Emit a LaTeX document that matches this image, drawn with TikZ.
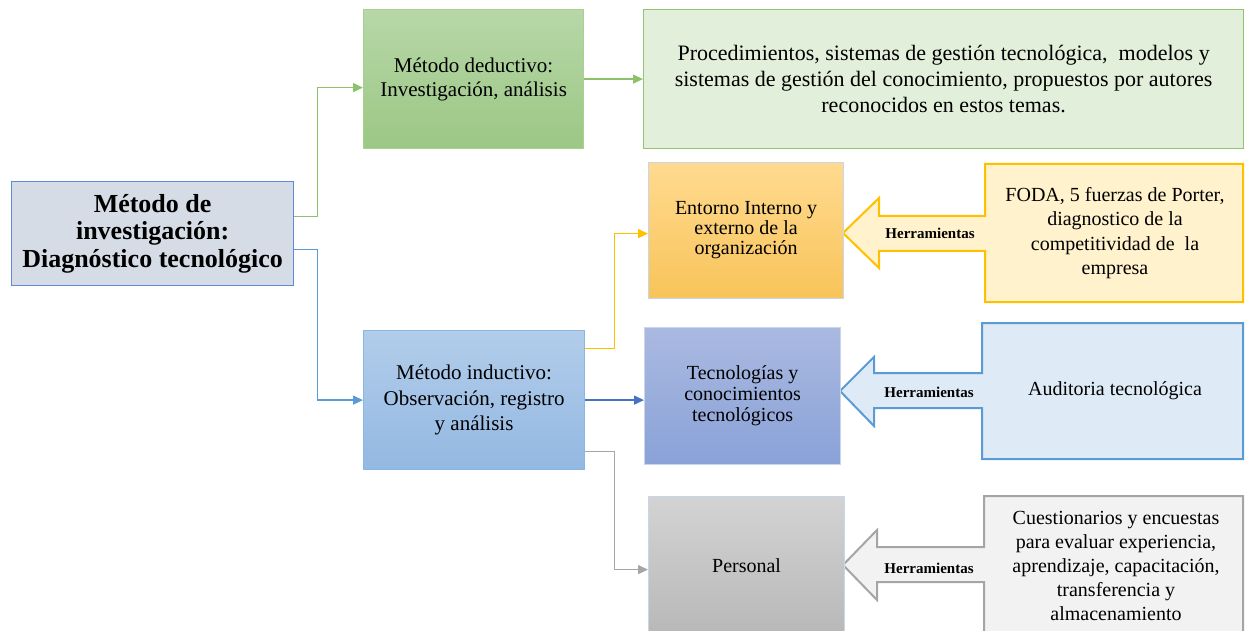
\documentclass[tikz,border=0pt]{standalone}
\usepackage{fontspec}
\setmainfont{Liberation Serif}
\usetikzlibrary{arrows.meta}
\definecolor{mainfill}{HTML}{D6DCE5}
\definecolor{mainline}{HTML}{5B8BD9}
\definecolor{gline}{HTML}{8CC26A}
\definecolor{bline}{HTML}{5B9BD5}
\definecolor{dedtop}{HTML}{B7D7A8}
\definecolor{dedbot}{HTML}{9CC784}
\definecolor{dedline}{HTML}{A9D18E}
\definecolor{bigfill}{HTML}{E2EFDA}
\definecolor{bigline}{HTML}{92C36F}
\definecolor{indtop}{HTML}{B2CDEA}
\definecolor{indbot}{HTML}{93B8E2}
\definecolor{indline}{HTML}{8AB6E4}
\definecolor{yline}{HTML}{FFC000}
\definecolor{enttop}{HTML}{FFDA8F}
\definecolor{entbot}{HTML}{F8C45A}
\definecolor{softline}{HTML}{C9D5EA}
\definecolor{tline}{HTML}{4472C4}
\definecolor{tectop}{HTML}{AAB9E0}
\definecolor{tecbot}{HTML}{8AA2D8}
\definecolor{grline}{HTML}{A5A5A5}
\definecolor{pertop}{HTML}{D3D3D3}
\definecolor{perbot}{HTML}{B8B8B8}
\definecolor{fodafill}{HTML}{FFF2CC}
\definecolor{audfill}{HTML}{DEEBF7}
\definecolor{cuefill}{HTML}{F2F2F2}
\begin{document}
\begin{tikzpicture}[x=1pt,y=-1pt,
  box/.style={rectangle,anchor=north west,inner sep=0pt,align=center,line width=1.2pt},
  txt/.style={font=\fontsize{20}{24}\selectfont},
  conn/.style={line width=1.4pt,-{Triangle[length=10pt,width=9pt]}},
  callout/.style={line width=2pt},
  herr/.style={font=\fontsize{15}{17}\selectfont\bfseries,inner sep=0pt},
  plain/.style={align=center,inner sep=0pt}]
\useasboundingbox (0,0) rectangle (1245,631);
\clip (0,0) rectangle (1245,631);

% callout shapes
\draw[callout,draw=yline,fill=fodafill] (985,164) -- (1243,164) -- (1243,302) -- (985,302) -- (985,251) -- (879,251) -- (879,268) -- (843,233) -- (879,198) -- (879,216) -- (985,216) -- cycle;
\draw[callout,draw=bline,fill=audfill] (982,323) -- (1243,323) -- (1243,459) -- (982,459) -- (982,408) -- (874,408) -- (874,426) -- (840,391) -- (874,357) -- (874,373) -- (982,373) -- cycle;
\draw[callout,draw=grline,fill=cuefill] (984,496) -- (1243,496) -- (1243,645) -- (984,645) -- (984,582) -- (877,582) -- (877,600) -- (843,565) -- (877,530) -- (877,547) -- (984,547) -- cycle;

% boxes
\node[box,draw=mainline,fill=mainfill,minimum width=282pt,minimum height=104pt,
  font=\fontsize{26}{27.5}\selectfont\bfseries] (main) at (11,181)
  {Método de\\investigación:\\Diagnóstico tecnológico};
\node[box,txt,draw=dedline,top color=dedtop,bottom color=dedbot,minimum width=220pt,minimum height=139pt,
  font=\fontsize{21}{24}\selectfont] (ded) at (363,9)
  {Método deductivo:\\Investigación, análisis};
\node[box,draw=bigline,fill=bigfill,minimum width=600pt,minimum height=139pt,
  font=\fontsize{22}{26}\selectfont] (big) at (643,9)
  {Procedimientos, sistemas de gestión tecnológica,\ \ modelos y\\sistemas de gestión del conocimiento, propuestos por autores\\reconocidos en estos temas.};
\node[box,draw=indline,top color=indtop,bottom color=indbot,minimum width=221pt,minimum height=139pt,
  font=\fontsize{21}{25.5}\selectfont] (ind) at (363,330)
  {Método inductivo:\\Observación, registro\\y análisis};
\node[box,draw=softline,top color=enttop,bottom color=entbot,minimum width=195pt,minimum height=136pt,
  font=\fontsize{20}{20}\selectfont] (ent) at (648,162)
  {Entorno Interno y\\externo de la\\organización};
\node[box,draw=softline,top color=tectop,bottom color=tecbot,minimum width=196pt,minimum height=137pt,
  font=\fontsize{20}{21}\selectfont] (tec) at (644,327)
  {Tecnologías y\\conocimientos\\tecnológicos};
\node[box,draw=softline,top color=pertop,bottom color=perbot,minimum width=196pt,minimum height=138pt,
  font=\fontsize{20}{24}\selectfont] (per) at (648,496)
  {Personal};

% callout texts
\node[plain,txt,font=\fontsize{20}{24.5}\selectfont] (foda) at (1115,233)
  {FODA, 5 fuerzas de Porter,\\diagnostico de la\\competitividad de\ \ la\\empresa};
\node[plain,txt] (aud) at (1115,391) {Auditoria tecnológica};
\node[plain,txt,font=\fontsize{20}{24}\selectfont] (cue) at (1116,566)
  {Cuestionarios y encuestas\\para evaluar experiencia,\\aprendizaje, capacitación,\\transferencia y\\almacenamiento};
\node[herr] (h1) at (930,233) {Herramientas};
\node[herr] (h2) at (929,392) {Herramientas};
\node[herr] (h3) at (929,568) {Herramientas};

% connectors
\draw[conn,gline] ([yshift=17pt]main.east) -- ++(23,0) |- ([yshift=-8.5pt]ded.west);
\draw[conn,bline] ([yshift=-16pt]main.east) -- ++(23,0) |- (ind.west);
\draw[conn,gline] (ded.east) -- (ded.east -| big.west);
\draw[conn,yline] ([yshift=51.5pt]ind.east) -- ++(29,0) |- ([yshift=-3pt]ent.west);
\draw[conn,tline] (ind.east) -- (ind.east -| tec.west);
\draw[conn,grline] ([yshift=-51.5pt]ind.east) -- ++(29,0) |- ([yshift=-4pt]per.west);
\end{tikzpicture}
\end{document}
